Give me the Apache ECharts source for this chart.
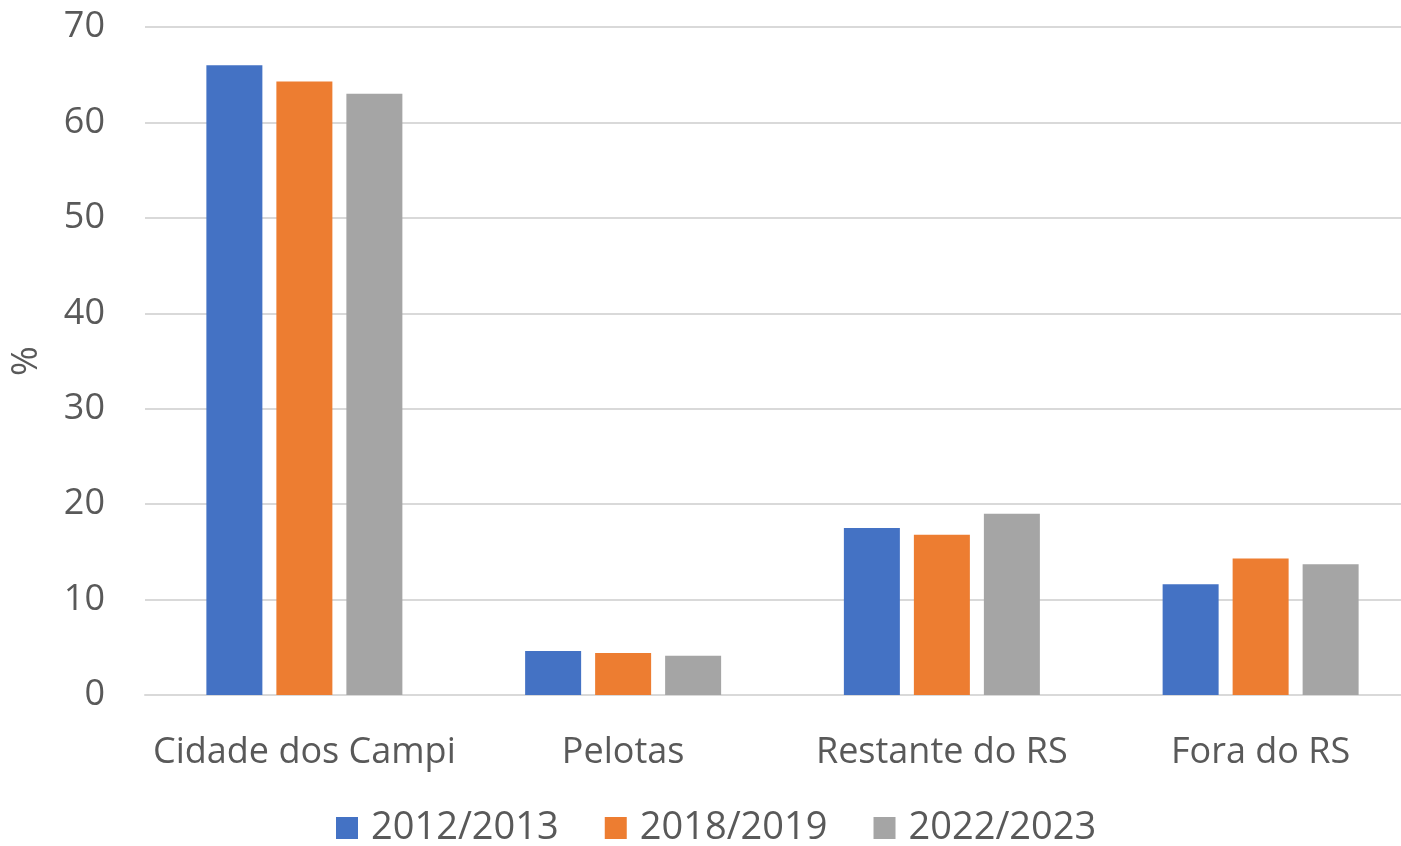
<!DOCTYPE html>
<html>
<head>
<meta charset="utf-8">
<script src="https://cdn.jsdelivr.net/npm/echarts@6/dist/echarts.min.js"></script>
<style>
  html, body { margin: 0; padding: 0; background: #fff; }
  #main { width: 1401px; height: 846px; }
</style>
</head>
<body>
<div id="main"></div>
<script>
var categories = ['Cidade dos Campi', 'Pelotas', 'Restante do RS', 'Fora do RS'];
var seriesNames = ['2012/2013', '2018/2019', '2022/2023'];
var values2012 = [66.0, 4.6, 17.5, 11.6];
var values2018 = [64.3, 4.4, 16.8, 14.3];
var values2022 = [63.0, 4.1, 19.0, 13.7];
var yTicks = [0, 10, 20, 30, 40, 50, 60, 70];

var chartDom = document.getElementById('main');
var myChart = echarts.init(chartDom);
var option;

var font = '"Open Sans", "Noto Sans", sans-serif';

option = {
  animation: false,
  color: ['#4472c4', '#ed7d31', '#a5a5a5'],
  textStyle: { fontFamily: font },
  grid: {
    left: 145,
    width: 1275,
    top: 27,
    bottom: 151,
    outerBoundsMode: 'none'
  },
  legend: {
    data: seriesNames,
    bottom: -6,
    left: 331,
    itemWidth: 22,
    itemHeight: 22,
    itemGap: 46,
    icon: 'rect',
    textStyle: {
      color: '#595959',
      fontSize: 38,
      padding: [0, 0, 0, 8],
      fontFamily: font
    }
  },
  xAxis: {
    type: 'category',
    data: categories,
    axisLine: { lineStyle: { color: '#d9d9d9', width: 2 } },
    axisTick: { show: false },
    axisLabel: {
      color: '#595959',
      fontSize: 36,
      margin: 40,
      interval: 0,
      fontFamily: font
    }
  },
  yAxis: {
    type: 'value',
    min: yTicks[0],
    max: yTicks[yTicks.length - 1],
    interval: 10,
    name: '%',
    nameLocation: 'middle',
    nameGap: 100,
    nameTextStyle: {
      color: '#595959',
      fontSize: 36,
      fontFamily: font
    },
    axisLine: { show: false },
    axisTick: { show: false },
    axisLabel: {
      color: '#595959',
      fontSize: 36,
      margin: 40,
      fontFamily: font
    },
    splitLine: { lineStyle: { color: '#d9d9d9', width: 2 } }
  },
  series: [
    { name: seriesNames[0], type: 'bar', data: values2012, barWidth: 56, barGap: '25%' },
    { name: seriesNames[1], type: 'bar', data: values2018, barWidth: 56, barGap: '25%' },
    { name: seriesNames[2], type: 'bar', data: values2022, barWidth: 56, barGap: '25%' }
  ]
};

option && myChart.setOption(option);
</script>
</body>
</html>
